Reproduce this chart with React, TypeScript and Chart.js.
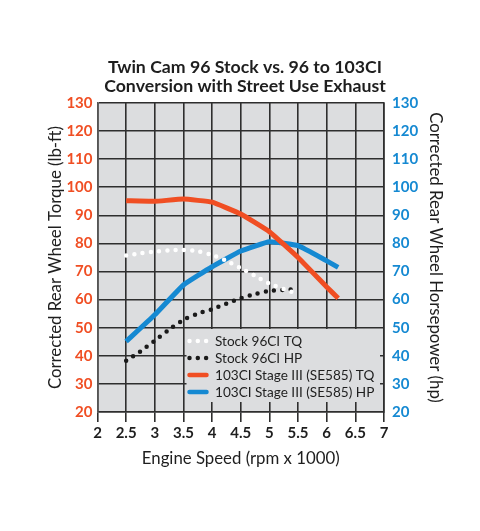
import React, { useEffect, useRef } from "react";
import { Chart, registerables } from "chart.js";

Chart.register(...registerables);

const titleLines = ["Twin Cam 96 Stock vs. 96 to 103CI", "Conversion with Street Use Exhaust"];
const xTitle = "Engine Speed (rpm x 1000)";
const yLeftTitle = "Corrected Rear Wheel Torque (lb-ft)";
const yRightTitle = "Corrected Rear Wheel Horsepower (hp)";

const stockRpm = [2.5, 2.75, 3, 3.25, 3.5, 3.75, 4, 4.25, 4.5, 4.75, 5, 5.25, 5.45];
const stockTQ = [75.7, 76.5, 77.1, 77.5, 77.7, 77.2, 75.9, 73.8, 71.2, 68.5, 65.7, 63.8, 62.3];
const stockHP = [38.2, 41.6, 45.4, 49.3, 52.8, 55.0, 56.6, 58.6, 60.5, 62.0, 63.1, 63.5, 63.7];

const stageRpm = [2.5, 3, 3.5, 4, 4.5, 5, 5.5, 6, 6.2];
const stageTQ = [95.2, 95.0, 95.8, 94.7, 90.5, 84.2, 75.0, 64.5, 60.5];
const stageHP = [45.1, 54.6, 65.2, 71.7, 77.3, 80.6, 79.2, 73.8, 71.5];

const seriesLabels = [
  "Stock 96CI TQ",
  "Stock 96CI HP",
  "103CI Stage III (SE585) TQ",
  "103CI Stage III (SE585) HP",
];

const ORANGE = "#f04e23";
const BLUE = "#1589d2";
const GRID = "#2e2e2e";
const BG = "#dcdddf";
const FONT = "Lato, 'Open Sans', sans-serif";

const pts = (xs: number[], ys: number[]) => xs.map((x, i) => ({ x, y: ys[i] }));

const bgPlugin = {
  id: "plotBg",
  beforeDraw(chart: any) {
    const { ctx, chartArea: a } = chart;
    ctx.save();
    ctx.fillStyle = BG;
    ctx.fillRect(a.left, a.top, a.right - a.left, a.bottom - a.top);
    ctx.restore();
  },
};

const legendPlugin = {
  id: "insideLegend",
  beforeDatasetsDraw(chart: any) {
    const { ctx, chartArea: a } = chart;
    const boxL = a.left + 89;
    const boxT = a.top + 226;
    const boxR = a.right - 4;
    const boxB = a.bottom - 10;
    ctx.save();
    ctx.fillStyle = BG;
    ctx.fillRect(boxL, boxT, boxR - boxL, boxB - boxT);
    const rowY0 = a.top + 238;
    const rowH = 17;
    ctx.font = `13.6px ${FONT}`;
    ctx.textBaseline = "middle";
    ctx.textAlign = "left";
    chart.data.datasets.forEach((ds: any, i: number) => {
      const y = rowY0 + i * rowH;
      const mx = a.left + 92;
      ctx.strokeStyle = ds.borderColor;
      ctx.lineWidth = 4.5;
      ctx.lineCap = "round";
      ctx.setLineDash(ds.borderDash && ds.borderDash.length ? [0, 8.3] : []);
      ctx.beginPath();
      ctx.moveTo(mx, y);
      ctx.lineTo(mx + 17, y);
      ctx.stroke();
      ctx.setLineDash([]);
      ctx.fillStyle = "#1e1e1e";
      ctx.fillText(ds.label, a.left + 117.5, y + 1);
    });
    ctx.restore();
  },
};

export default function App() {
  const ref = useRef<HTMLCanvasElement | null>(null);

  useEffect(() => {
    document.body.style.margin = "0";
    const canvas = ref.current;
    if (!canvas) return;
    const tickFont = { family: FONT, size: 15, weight: "bold" as const };
    const titleFont = { family: FONT, size: 16.8, weight: "normal" as const };
    const chart = new Chart(canvas, {
      type: "line",
      data: {
        datasets: [
          {
            label: seriesLabels[0],
            data: pts(stockRpm, stockTQ),
            yAxisID: "yL",
            borderColor: "#ffffff",
            borderWidth: 4.5,
            borderDash: [0, 8.3],
            borderCapStyle: "round",
            pointRadius: 0,
            tension: 0.3,
          },
          {
            label: seriesLabels[1],
            data: pts(stockRpm, stockHP),
            yAxisID: "yR",
            borderColor: "#1a1a1a",
            borderWidth: 4.5,
            borderDash: [0, 8.3],
            borderCapStyle: "round",
            pointRadius: 0,
            tension: 0.3,
          },
          {
            label: seriesLabels[2],
            data: pts(stageRpm, stageTQ),
            yAxisID: "yL",
            borderColor: ORANGE,
            borderWidth: 5,
            borderJoinStyle: "round",
            borderCapStyle: "butt",
            pointRadius: 0,
            tension: 0.1,
          },
          {
            label: seriesLabels[3],
            data: pts(stageRpm, stageHP),
            yAxisID: "yR",
            borderColor: BLUE,
            borderWidth: 5,
            borderJoinStyle: "round",
            borderCapStyle: "butt",
            pointRadius: 0,
            tension: 0.1,
          },
        ],
      },
      options: {
        responsive: false,
        animation: false,
        devicePixelRatio: 1,
        layout: { padding: { top: 0, left: 10, right: 0, bottom: 0 } },
        plugins: {
          legend: { display: false },
          tooltip: { enabled: false },
          title: {
            display: true,
            text: titleLines,
            color: "#1e1e1e",
            font: { family: FONT, size: 17.7, weight: "bold", lineHeight: "19px" },
            padding: { top: 57.5, bottom: 7.5 },
          },
        },
        scales: {
          x: {
            type: "linear",
            min: 2,
            max: 7,
            afterFit: (s: any) => {
              s.height = 119;
            },
            ticks: {
              stepSize: 0.5,
              color: "#1e1e1e",
              font: tickFont,
              padding: 2,
              maxRotation: 0,
              autoSkip: false,
              callback: (v: any) => String(v),
            },
            grid: { color: GRID, lineWidth: 1.6, tickLength: 10, tickColor: GRID },
            border: { color: GRID, width: 1.6 },
            title: {
              display: true,
              text: xTitle,
              color: "#1e1e1e",
              font: titleFont,
              padding: { top: 4, bottom: 61.9 },
            },
          },
          yL: {
            type: "linear",
            position: "left",
            min: 20,
            max: 130,
            afterFit: (s: any) => {
              s.width = 87.5;
            },
            ticks: { stepSize: 10, color: ORANGE, font: tickFont, padding: 5 },
            grid: { color: GRID, lineWidth: 1.6, drawTicks: false },
            border: { color: "#555555", width: 1.6 },
            title: {
              display: true,
              text: yLeftTitle,
              color: "#1e1e1e",
              font: titleFont,
              padding: { top: 35.9, bottom: 4 },
            },
          },
          yR: {
            type: "linear",
            position: "right",
            min: 20,
            max: 130,
            afterFit: (s: any) => {
              s.width = 96;
            },
            ticks: { stepSize: 10, color: BLUE, font: tickFont, padding: 8 },
            grid: { drawOnChartArea: false, drawTicks: false },
            border: { color: GRID, width: 1.6 },
            title: {
              display: true,
              text: yRightTitle,
              color: "#1e1e1e",
              font: titleFont,
              padding: { top: 34.9, bottom: 4 },
            },
          },
        },
      },
      plugins: [bgPlugin, legendPlugin],
    } as any);
    return () => chart.destroy();
  }, []);

  return (
    <div style={{ width: 480, height: 531 }}>
      <canvas ref={ref} width={480} height={531} style={{ display: "block" }} />
    </div>
  );
}
